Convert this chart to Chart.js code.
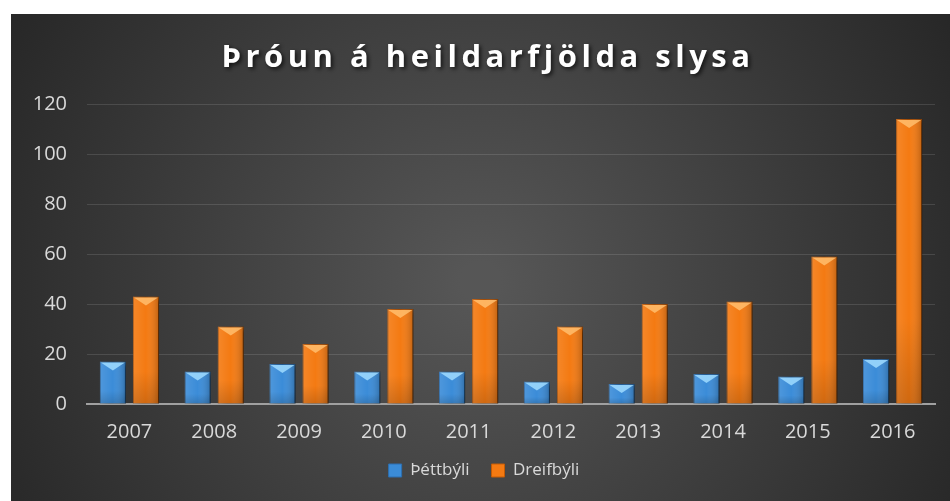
<!DOCTYPE html>
<html>
<head>
<meta charset="utf-8">
<script src="https://cdn.jsdelivr.net/npm/chart.js@4"></script>
<style>
  html, body { margin: 0; padding: 0; background: #fff; }
  #wrap { position: absolute; left: 11px; top: 14px; width: 939px; height: 487px; }
</style>
</head>
<body>
<div id="wrap"><canvas id="chart" width="939" height="487"></canvas></div>
<script>
// Data
const years     = ["2007", "2008", "2009", "2010", "2011", "2012", "2013", "2014", "2015", "2016"];
const thettbyli = [17, 13, 16, 13, 13, 9, 8, 12, 11, 18];
const dreifbyli = [43, 31, 24, 38, 42, 31, 40, 41, 59, 114];
const yTicks    = [0, 20, 40, 60, 80, 100, 120];
const titleText = "Þróun á heildarfjölda slysa";

const FONT = "'Open Sans', 'DejaVu Sans', sans-serif";

// Dark radial backdrop + title
const backdrop = {
    id: "backdrop",
    beforeDraw(chart) {
        const { ctx, width, height } = chart;
        const g = ctx.createRadialGradient(width * 0.5, height * 0.55, 20, width * 0.5, height * 0.55, width * 0.6);
        g.addColorStop(0, "#565656");
        g.addColorStop(1, "#252525");
        ctx.save();
        ctx.fillStyle = g;
        ctx.fillRect(0, 0, width, height);

        ctx.font = "bold 31px " + FONT;
        ctx.letterSpacing = "4.5px";
        ctx.textAlign = "center";
        ctx.textBaseline = "alphabetic";
        ctx.shadowColor = "rgba(0,0,0,0.7)";
        ctx.shadowBlur = 4;
        ctx.shadowOffsetX = 2;
        ctx.shadowOffsetY = 2;
        ctx.fillStyle = "#ffffff";
        ctx.fillText(titleText, 477, 53);
        ctx.restore();
    }
};

// Drop shadow under bars, then bevel shading on top of them
const bevel = {
    id: "bevel",
    beforeDatasetsDraw(chart) {
        const ctx = chart.ctx;
        ctx.save();
        ctx.shadowColor = "rgba(0,0,0,0.55)";
        ctx.shadowBlur = 6;
        ctx.shadowOffsetX = 3;
        ctx.shadowOffsetY = 1;
    },
    afterDatasetsDraw(chart) {
        const ctx = chart.ctx;
        ctx.restore();
        const tops = ["rgba(160,220,255,0.85)", "rgba(255,190,110,0.85)"];
        chart.data.datasets.forEach((ds, di) => {
            chart.getDatasetMeta(di).data.forEach(bar => {
                const left = bar.x - bar.width / 2, right = bar.x + bar.width / 2;
                const top = bar.y, base = bar.base;
                ctx.save();
                // side shading
                const sg = ctx.createLinearGradient(left, 0, right, 0);
                sg.addColorStop(0, "rgba(255,255,255,0.10)");
                sg.addColorStop(0.5, "rgba(255,255,255,0)");
                sg.addColorStop(1, "rgba(0,0,0,0.22)");
                ctx.fillStyle = sg;
                ctx.fillRect(left, top, bar.width, base - top);
                // bottom darkening
                const bg = ctx.createLinearGradient(0, top, 0, base);
                bg.addColorStop(0, "rgba(0,0,0,0)");
                bg.addColorStop(0.7, "rgba(0,0,0,0)");
                bg.addColorStop(1, "rgba(0,0,0,0.15)");
                ctx.fillStyle = bg;
                ctx.fillRect(left, top, bar.width, base - top);
                // top bevel
                const h = Math.min(9, (base - top) / 2);
                ctx.fillStyle = tops[di];
                ctx.beginPath();
                ctx.moveTo(left + 1, top + 1);
                ctx.lineTo(right - 1, top + 1);
                ctx.lineTo(bar.x, top + h);
                ctx.closePath();
                ctx.fill();
                ctx.restore();
            });
        });
    }
};

new Chart(document.getElementById("chart"), {
    type: "bar",
    data: {
        labels: years,
        datasets: [
            {
                label: "Þéttbýli",
                data: thettbyli,
                backgroundColor: "#3b8cd8",
                borderColor: "#2c6fb2",
                borderWidth: 1,
                barPercentage: 0.79,
                categoryPercentage: 0.78,
            },
            {
                label: "Dreifbýli",
                data: dreifbyli,
                backgroundColor: "#f47a12",
                borderColor: "#c55c06",
                borderWidth: 1,
                barPercentage: 0.79,
                categoryPercentage: 0.78,
            }
        ]
    },
    options: {
        responsive: false,
        animation: false,
        layout: { padding: { top: 90, right: 15, left: 22, bottom: 12 } },
        plugins: {
            title: { display: false },
            tooltip: { enabled: false },
            legend: {
                position: "bottom",
                labels: {
                    color: "#d9d9d9",
                    font: { family: FONT, size: 17 },
                    boxWidth: 13, boxHeight: 13,
                    padding: 22,
                }
            }
        },
        scales: {
            x: {
                afterFit(scale) { scale.height -= 20; },
                grid: { display: false, drawTicks: false },
                border: { color: "#a0a0a0", width: 2 },
                ticks: { color: "#d9d9d9", font: { family: FONT, size: 20 }, padding: 16 }
            },
            y: {
                min: 0, max: 120,
                afterFit(scale) { scale.width = 54; },
                afterBuildTicks(scale) { scale.ticks = yTicks.map(v => ({ value: v })); },
                grid: { color: "rgba(255,255,255,0.12)", lineWidth: 1, drawTicks: false },
                border: { display: false },
                ticks: { color: "#d9d9d9", font: { family: FONT, size: 20 }, padding: 20 }
            }
        }
    },
    plugins: [backdrop, bevel]
});
</script>
</body>
</html>
